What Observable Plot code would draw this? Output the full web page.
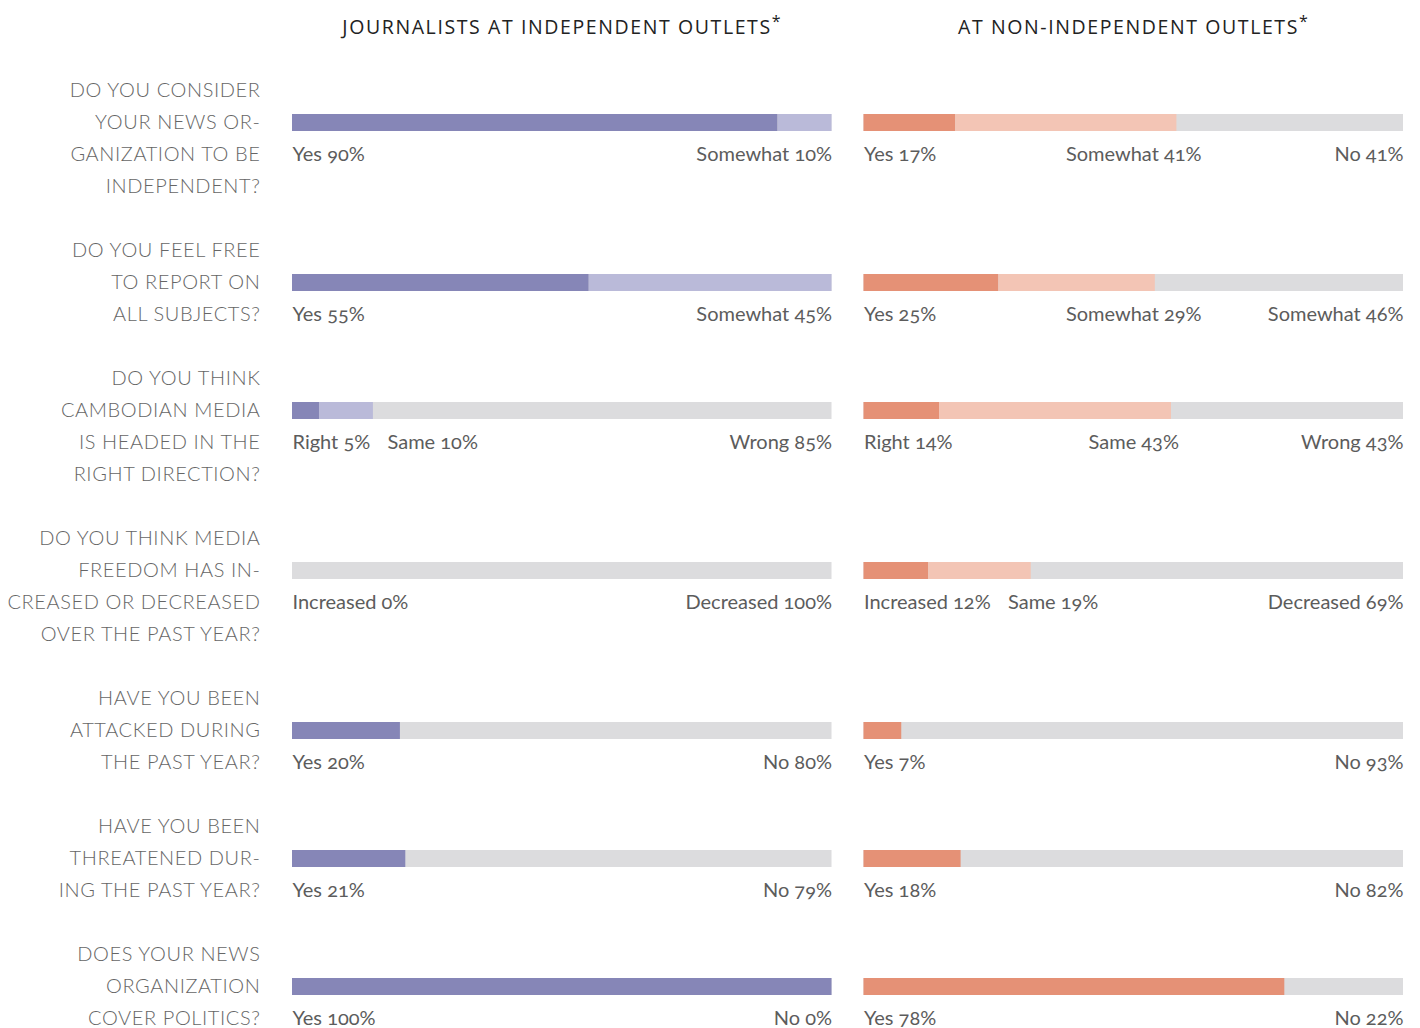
<!DOCTYPE html>
<html><head><meta charset="utf-8">
<script src="https://cdn.jsdelivr.net/npm/d3@7"></script>
<script src="https://cdn.jsdelivr.net/npm/@observablehq/plot@0.6"></script>
<style>
body{margin:0;background:#fff;}
#chart svg{display:block;}
#chart text{font-variant-numeric:oldstyle-nums;}
.qlabel text{letter-spacing:0.6px;}
.header text{letter-spacing:1.6px;}
</style></head><body><div id="chart"></div>
<script>
const panels = ["independent", "nonIndependent"];
const panelTitles = ["JOURNALISTS AT INDEPENDENT OUTLETS", "AT NON-INDEPENDENT OUTLETS"];
const questions = [
  ["DO YOU CONSIDER", "YOUR NEWS OR-", "GANIZATION TO BE", "INDEPENDENT?"],
  ["DO YOU FEEL FREE", "TO REPORT ON", "ALL SUBJECTS?"],
  ["DO YOU THINK", "CAMBODIAN MEDIA", "IS HEADED IN THE", "RIGHT DIRECTION?"],
  ["DO YOU THINK MEDIA", "FREEDOM HAS IN-", "CREASED OR DECREASED", "OVER THE PAST YEAR?"],
  ["HAVE YOU BEEN", "ATTACKED DURING", "THE PAST YEAR?"],
  ["HAVE YOU BEEN", "THREATENED DUR-", "ING THE PAST YEAR?"],
  ["DOES YOUR NEWS", "ORGANIZATION", "COVER POLITICS?"]
];
const independentCategories = [
  ["Yes", "Somewhat"], ["Yes", "Somewhat"], ["Right", "Same", "Wrong"],
  ["Increased", "Decreased"], ["Yes", "No"], ["Yes", "No"], ["Yes", "No"]
];
const independentValues = [[90, 10], [55, 45], [5, 10, 85], [0, 100], [20, 80], [21, 79], [100, 0]];
const nonIndependentCategories = [
  ["Yes", "Somewhat", "No"], ["Yes", "Somewhat", "Somewhat"], ["Right", "Same", "Wrong"],
  ["Increased", "Same", "Decreased"], ["Yes", "No"], ["Yes", "No"], ["Yes", "No"]
];
const nonIndependentValues = [[17, 41, 41], [25, 29, 46], [14, 43, 43], [12, 19, 69], [7, 93], [18, 82], [78, 22]];

const palette = {independent: ["#8686b7", "#babad9"], nonIndependent: ["#e59176", "#f3c5b5"]};
const trackColor = "#dcdcde";

// layout in "line" units derived from the question label line counts
const rowStart = [];
let acc = 0;
for (const q of questions) { rowStart.push(acc); acc += q.length + 1; }
const lastLine = acc - 2;

const W = 1420, H = 1028, mL = 292, mR = 17;
const padInner = 32 / 572;

const ctx = document.createElement("canvas").getContext("2d");
ctx.font = "20px Lato";
const measure = (s) => ctx.measureText(s).width;

function tone(cats, i) {
  const n = cats.length;
  if (i === 0) return 0;
  if (i === n - 1 && n === 3) return 2;
  return (cats[i] === "Somewhat" || cats[i] === "Same") ? 1 : 2;
}

const segments = [], labels = [], qlines = [], tracks = [];
const sources = {
  independent: [independentCategories, independentValues],
  nonIndependent: [nonIndependentCategories, nonIndependentValues]
};
for (const panel of panels) {
  const [cats, vals] = sources[panel];
  cats.forEach((row, r) => {
    const y = rowStart[r] + 1;
    tracks.push({panel, y});
    let s = 0;
    const ends = [];
    row.forEach((c, i) => {
      const v = vals[r][i];
      const t = tone(row, i);
      if (t < 2 && v > 0) segments.push({panel, y, x1: s, x2: s + v, color: palette[panel][t]});
      s += v;
      ends.push(s);
    });
    const texts = row.map((c, i) => `${c} ${vals[r][i]}%`);
    const ly = rowStart[r] + 2;
    labels.push({panel, y: ly, text: texts[0], x: 0, anchor: "start", dx: 0});
    labels.push({panel, y: ly, text: texts[texts.length - 1], x: 100, anchor: "end", dx: 0});
    if (texts.length === 3) {
      if (ends[1] < 50) labels.push({panel, y: ly, text: texts[1], x: 0, anchor: "start", dx: Math.round(measure(texts[0]) + 16)});
      else labels.push({panel, y: ly, text: texts[1], x: 50, anchor: "middle", dx: 0});
    }
  });
}
questions.forEach((q, r) => q.forEach((line, k) => qlines.push({panel: panels[0], y: rowStart[r] + k, text: line})));
const headers = panels.map((p, i) => ({panel: p, text: panelTitles[i]}));

const textOpts = (anchor) => ({fontFamily: "Lato", fontSize: 20, fill: "#5c5c5c", textAnchor: anchor});

const chart = Plot.plot({
  width: W, height: H,
  marginLeft: mL, marginRight: mR, marginTop: 90, marginBottom: 10,
  x: {domain: [0, 100], axis: null},
  y: {domain: [0, lastLine], axis: null, reverse: true},
  fx: {domain: panels, axis: null, paddingInner: padInner, paddingOuter: 0, round: false},
  marks: [
    Plot.ruleY(tracks, {fx: "panel", y: "y", x1: 0, x2: 100, stroke: trackColor, strokeWidth: 17}),
    Plot.ruleY(segments, {fx: "panel", y: "y", x1: "x1", x2: "x2", stroke: "color", strokeWidth: 17}),
    ...labels.filter(d => d.anchor === "start" && d.dx > 0).map(d => Plot.text([d], {fx: "panel", x: "x", y: "y", text: "text", dx: d.dx, ...textOpts("start")})),
    Plot.text(labels.filter(d => d.anchor === "start" && d.dx === 0), {fx: "panel", x: "x", y: "y", text: "text", ...textOpts("start")}),
    Plot.text(labels.filter(d => d.anchor === "end"), {fx: "panel", x: "x", y: "y", text: "text", ...textOpts("end")}),
    Plot.text(labels.filter(d => d.anchor === "middle"), {fx: "panel", x: "x", y: "y", text: "text", ...textOpts("middle")}),
    Plot.text(qlines, {fx: "panel", x: 0, y: "y", text: "text", dx: -32, textAnchor: "end", fontFamily: "Lato", fontWeight: 300, fontSize: 20, fill: "#666", className: "qlabel"}),
    Plot.text(headers, {fx: "panel", x: 50, y: -2, dy: 1, text: "text", textAnchor: "middle", fontFamily: "Open Sans", fontSize: 19.5, fill: "#222", className: "header"})
  ]
});
document.getElementById("chart").appendChild(chart);
d3.select(chart).selectAll(".header text").append("tspan").attr("dy", "-0.45em").attr("font-size", 16).text("*");
</script></body></html>
